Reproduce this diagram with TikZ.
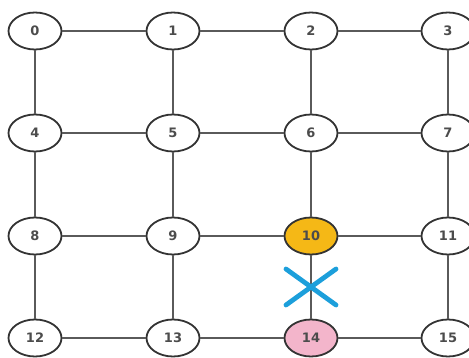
\documentclass[tikz,border=0pt]{standalone}
\usepackage{fontspec}
\setmainfont{DejaVu Sans}
\usetikzlibrary{shapes.geometric, calc}
\definecolor{linkgray}{HTML}{5A5A5A}
\definecolor{busy}{HTML}{F5B816}
\definecolor{dest}{HTML}{F3B5CB}
\definecolor{blocked}{HTML}{1C9FDB}

\begin{document}
\begin{tikzpicture}[x=1pt,y=-1pt,
  router/.style={ellipse,draw=black!80,line width=1.8pt,fill=white,
                 minimum width=53pt,minimum height=37pt,inner sep=0pt,
                 font=\bfseries\fontsize{13}{13}\selectfont,text=black!70},
  cell 10/.style={fill=busy},
  cell 14/.style={fill=dest},
  link/.style={draw=linkgray,line width=1.9pt}]
  \useasboundingbox (0,0) rectangle (469,358);
  % 4x4 mesh of routers
  \foreach \r/\ry in {0/31,1/133,2/236,3/338}
    \foreach \c/\cx in {0/35,1/173,2/311,3/448}{
      \pgfmathtruncatemacro{\id}{4*\r+\c}
      \node[router,cell \id/.try] (n\id) at (\cx,\ry) {\id};
    }
  % links
  \foreach \a in {0,1,2,4,5,6,8,9,10,12,13,14}{
    \pgfmathtruncatemacro{\b}{\a+1}
    \draw[link] (n\a) -- (n\b);
  }
  \foreach \a in {0,...,11}{
    \pgfmathtruncatemacro{\b}{\a+4}
    \draw[link] (n\a) -- (n\b);
  }
  % broken link 10-14
  \coordinate (fault) at ($(n10)!0.5!(n14)$);
  \draw[blocked,line width=4.8pt,line cap=round]
    ([shift={(-25,-18)}]fault) -- ([shift={(25,18)}]fault)
    ([shift={(-25,18)}]fault) -- ([shift={(25,-18)}]fault);
\end{tikzpicture}
\end{document}
